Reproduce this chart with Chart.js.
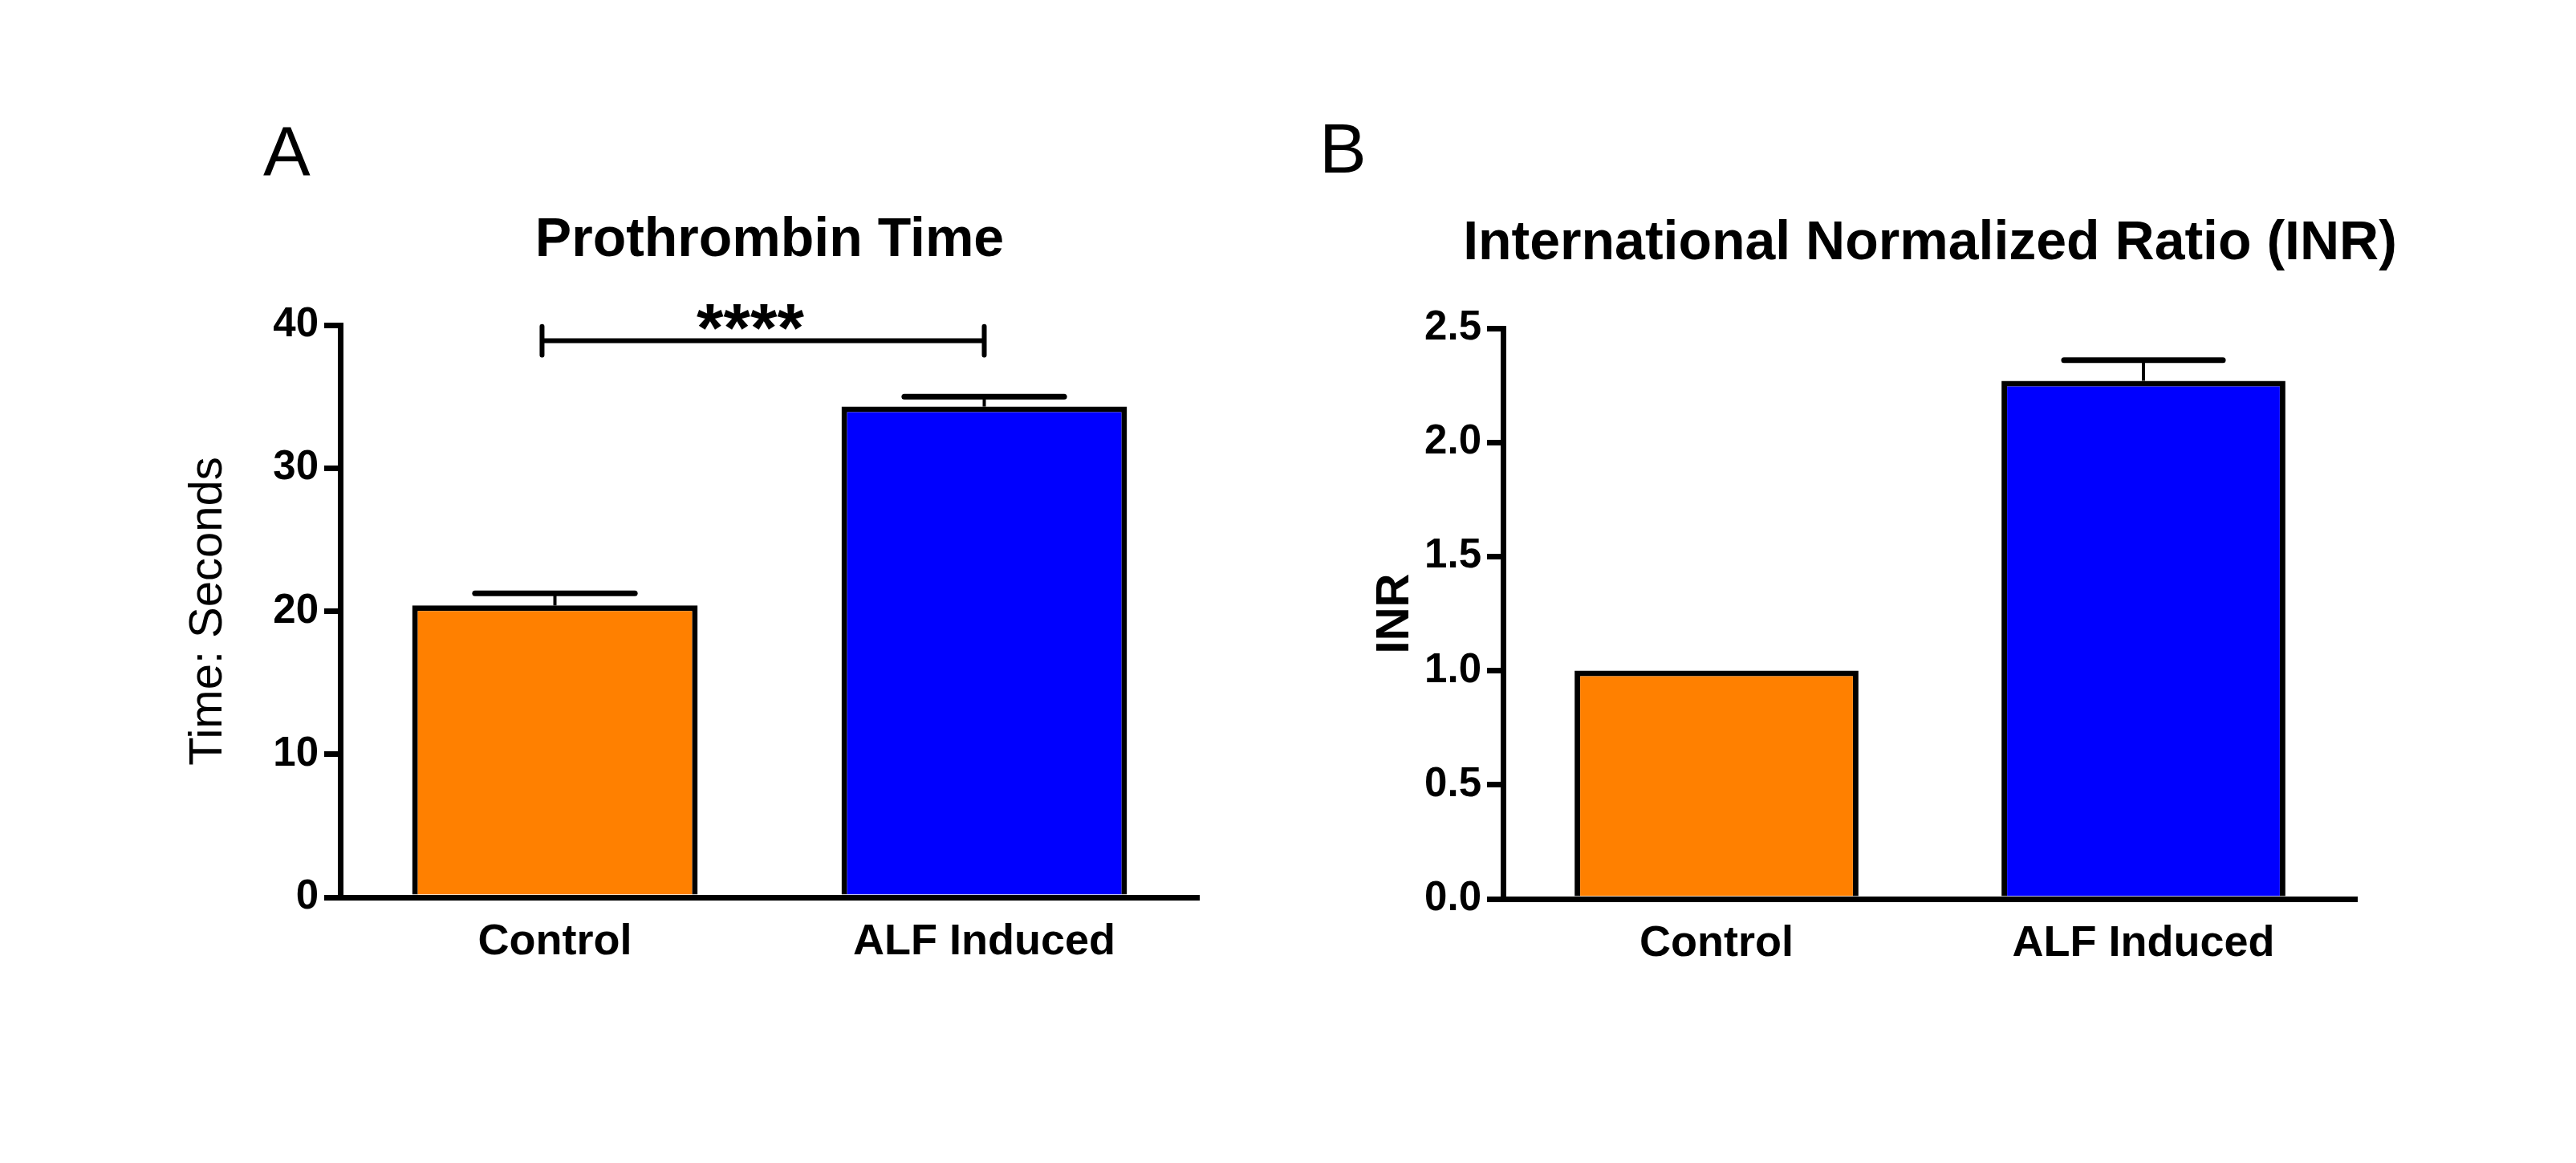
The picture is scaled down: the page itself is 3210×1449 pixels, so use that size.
<!DOCTYPE html>
<html><head><meta charset="utf-8">
<script src="https://cdn.jsdelivr.net/npm/chart.js@4"></script>
<style>
html,body{margin:0;padding:0;background:#fff;overflow:hidden}
#wrap{position:relative;width:3210px;height:1449px;background:#fff}
canvas{position:absolute;top:0}
#ca{left:0}
#cb{left:1605px}
</style></head><body>
<div id="wrap"><canvas id="ca" width="1605" height="1449"></canvas><canvas id="cb" width="1605" height="1449"></canvas></div>
<script>
// ---- data ----
const categories = ['Control', 'ALF Induced'];
const ptMean = [20.4, 34.3];
const ptSem = [0.85, 0.7];
const inrMean = [1.0, 2.27];
const inrSem = [0, 0.09];
const barColors = ['#FF8000', '#0000FF'];
const ptAxis = {min: 0, max: 40, step: 10};
const inrAxis = {min: 0, max: 2.5, step: 0.5};
const sigPair = [0, 1];
const sigLevel = 38.9;
const sigLabel = '****';

Chart.defaults.font.family = "'Liberation Sans', Arial, sans-serif";
Chart.defaults.color = '#000';

const errPlugin = {
  id: 'errbars',
  afterDatasetsDraw(chart, args, opts) {
    const meta = chart.getDatasetMeta(0);
    const ys = chart.scales.y;
    const ctx = chart.ctx;
    const vals = chart.data.datasets[0].data;
    ctx.save();
    ctx.strokeStyle = '#000';
    meta.data.forEach((bar, i) => {
      const e = opts.sem[i];
      if (!e) return;
      const p = bar.getProps(['x', 'width'], true);
      const yBar = ys.getPixelForValue(vals[i]);
      const yTop = ys.getPixelForValue(vals[i] + e);
      const half = p.width * opts.capFrac / 2;
      ctx.lineWidth = 4; ctx.lineCap = 'butt';
      ctx.beginPath(); ctx.moveTo(p.x, yBar); ctx.lineTo(p.x, yTop); ctx.stroke();
      ctx.lineWidth = 7; ctx.lineCap = 'round';
      ctx.beginPath(); ctx.moveTo(p.x - half, yTop); ctx.lineTo(p.x + half, yTop); ctx.stroke();
    });
    ctx.restore();
  }
};

const sigPlugin = {
  id: 'sig',
  afterDatasetsDraw(chart, args, opts) {
    if (!opts.show) return;
    const xs = chart.scales.x, ys = chart.scales.y, ctx = chart.ctx;
    const x1 = xs.getPixelForValue(opts.pair[0] - 0.03);
    const x2 = xs.getPixelForValue(opts.pair[1]);
    const y = ys.getPixelForValue(opts.level);
    const yUp = ys.getPixelForValue(opts.level + 1.0);
    const yDn = ys.getPixelForValue(opts.level - 1.0);
    ctx.save();
    ctx.strokeStyle = '#000';
    ctx.lineWidth = 6; ctx.lineCap = 'butt';
    ctx.beginPath(); ctx.moveTo(x1, y); ctx.lineTo(x2, y); ctx.stroke();
    ctx.lineCap = 'round';
    ctx.beginPath(); ctx.moveTo(x1, yUp); ctx.lineTo(x1, yDn); ctx.moveTo(x2, yUp); ctx.lineTo(x2, yDn); ctx.stroke();
    ctx.font = "bold 86px 'Liberation Sans', Arial, sans-serif";
    ctx.fillStyle = '#000';
    ctx.textAlign = 'center'; ctx.textBaseline = 'alphabetic';
    const m = ctx.measureText(opts.text);
    const bottom = y - 14;
    ctx.fillText(opts.text, (x1 + x2) / 2 - 16, bottom - m.actualBoundingBoxDescent);
    ctx.restore();
  }
};

const headPlugin = {
  id: 'head',
  afterDraw(chart, args, opts) {
    const ctx = chart.ctx;
    const ca = chart.chartArea;
    ctx.save();
    ctx.fillStyle = '#000';
    // chart title, centred over the plot area
    ctx.font = "bold 68px 'Liberation Sans', Arial, sans-serif";
    ctx.textAlign = 'center'; ctx.textBaseline = 'middle';
    ctx.fillText(opts.title, (ca.left + ca.right) / 2, opts.titleY);
    // panel letter
    ctx.font = "88px 'Liberation Sans', Arial, sans-serif";
    ctx.textAlign = 'left'; ctx.textBaseline = 'alphabetic';
    ctx.fillText(opts.letter, opts.letterX, opts.letterY);
    ctx.restore();
  }
};

function build(id, cfg) {
  return new Chart(document.getElementById(id), {
    type: 'bar',
    data: {
      labels: categories,
      datasets: [{
        data: cfg.values,
        backgroundColor: barColors,
        borderColor: '#000',
        borderWidth: 7,
        borderSkipped: 'start',
        barPercentage: 0.665,
        categoryPercentage: 1.0
      }]
    },
    options: {
      responsive: false,
      animation: false,
      devicePixelRatio: 1,
      events: [],
      layout: {padding: {left: 0, top: cfg.padTop, right: cfg.padRight, bottom: 0}},
      plugins: {
        legend: {display: false},
        tooltip: {enabled: false},
        title: {display: false},
        errbars: {sem: cfg.sem, capFrac: 0.56},
        sig: cfg.sig,
        head: cfg.head
      },
      scales: {
        x: {
          offset: true,
          grid: {display: false, drawTicks: false},
          border: {display: true, width: 7, color: '#000'},
          ticks: {font: {size: 54, weight: 'bold'}, color: '#000', padding: 24, maxRotation: 0},
          afterFit: s => { s.height = cfg.xHeight; }
        },
        y: {
          min: cfg.axis.min, max: cfg.axis.max,
          grid: {display: true, drawOnChartArea: false, drawTicks: true, tickLength: 20, lineWidth: 7, color: '#000'},
          border: {display: true, width: 7, color: '#000'},
          ticks: {stepSize: cfg.axis.step, font: {size: 51, weight: 'bold'}, color: '#000', padding: 7,
                  callback: cfg.tickFmt},
          title: {display: true, text: cfg.yTitle, color: '#000',
                  font: {size: 58, weight: cfg.yTitleWeight}, padding: {top: cfg.yTitlePad, bottom: 0}},
          afterFit: s => { s.width = cfg.yWidth; }
        }
      }
    },
    plugins: [errPlugin, sigPlugin, headPlugin]
  });
}

build('ca', {
  values: ptMean, sem: ptSem, axis: ptAxis,
  padTop: 405, padRight: 111, xHeight: 331, yWidth: 424,
  yTitle: 'Time: Seconds', yTitleWeight: 'normal', yTitlePad: 225,
  tickFmt: v => String(v),
  sig: {show: true, pair: sigPair, level: sigLevel, text: sigLabel},
  head: {title: 'Prothrombin Time', titleY: 300, letter: 'A', letterX: 328, letterY: 219}
});

build('cb', {
  values: inrMean, sem: inrSem, axis: inrAxis,
  padTop: 409, padRight: 273, xHeight: 329, yWidth: 268,
  yTitle: 'INR', yTitleWeight: 'bold', yTitlePad: 99,
  tickFmt: v => Number(v).toFixed(1),
  sig: {show: false},
  head: {title: 'International Normalized Ratio (INR)', titleY: 304, letter: 'B', letterX: 39, letterY: 215}
});
</script>
</body></html>
